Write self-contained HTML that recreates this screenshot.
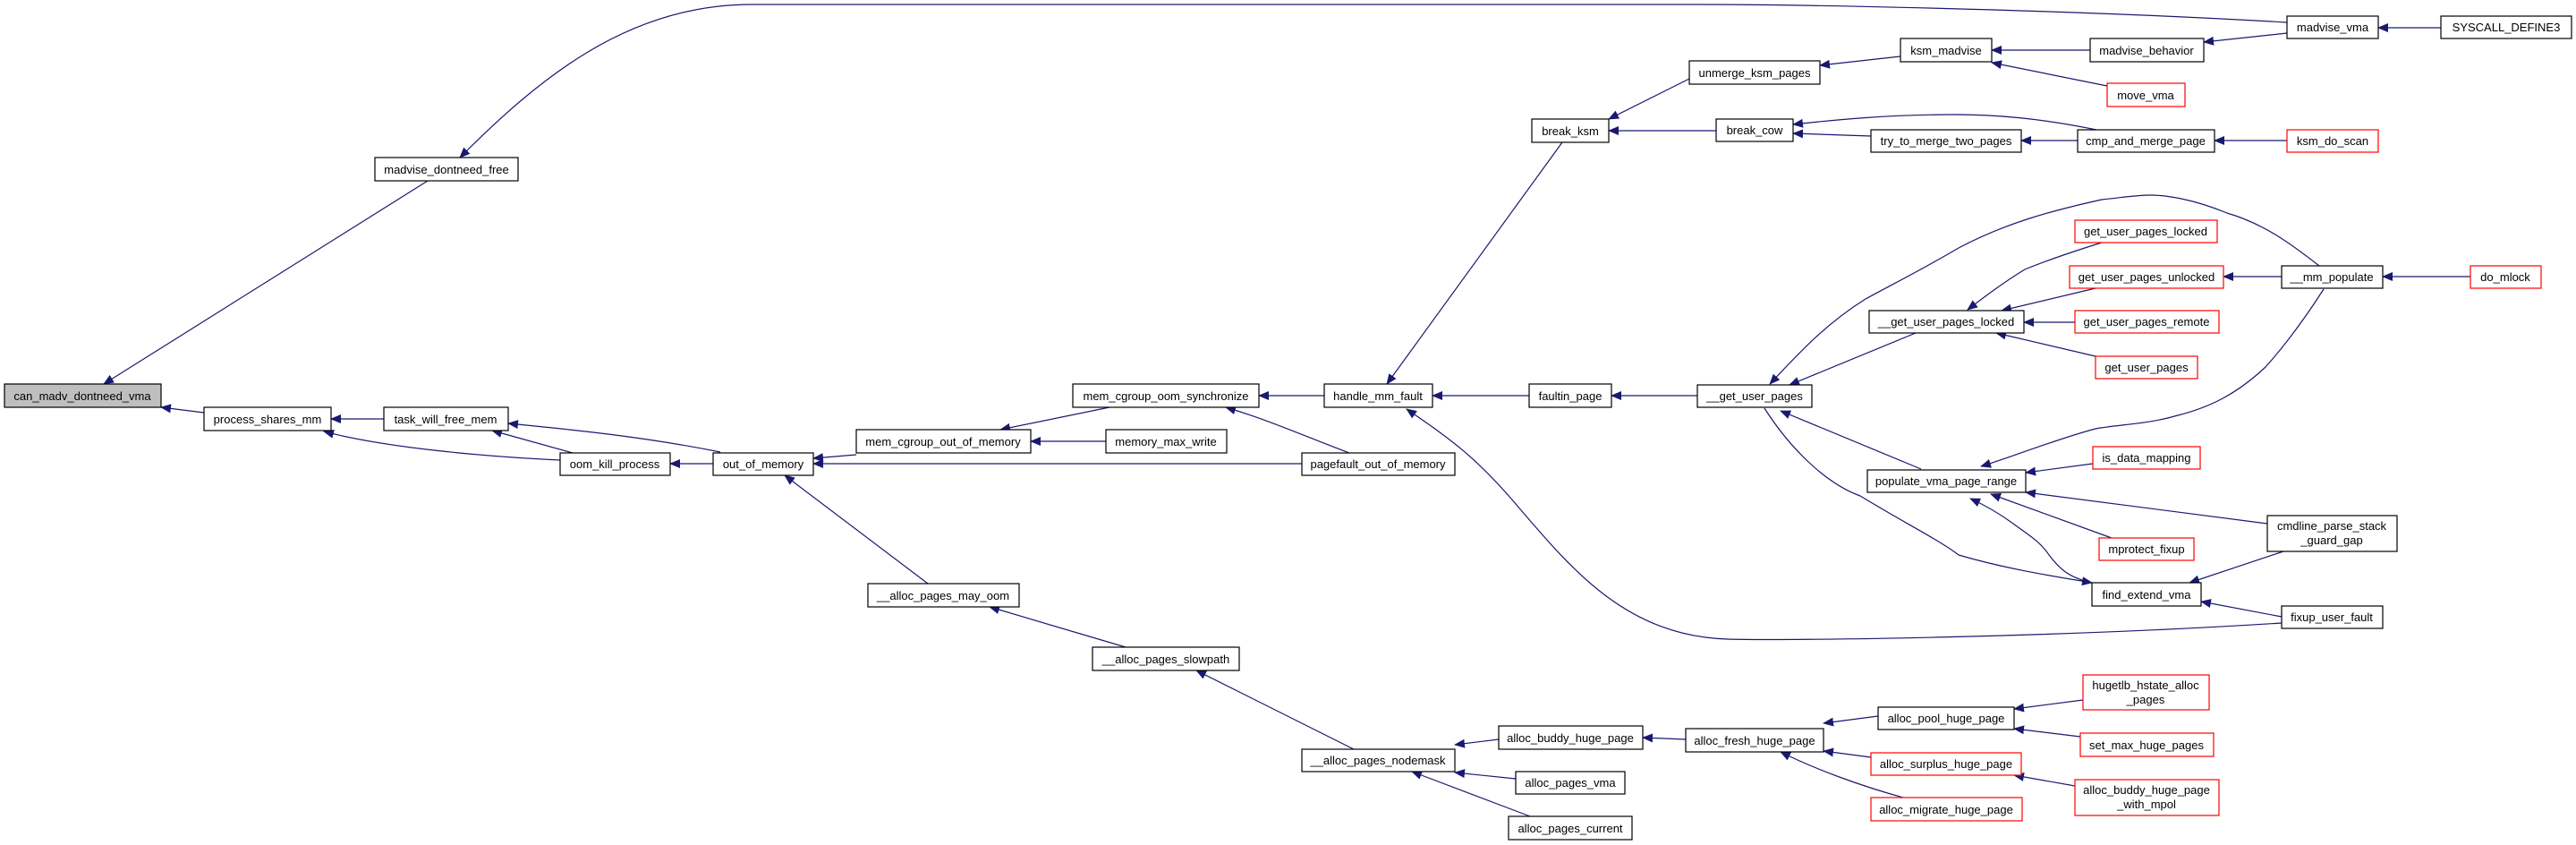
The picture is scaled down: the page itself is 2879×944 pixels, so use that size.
<!DOCTYPE html>
<html><head><meta charset="utf-8"><style>
html,body{margin:0;padding:0;background:#fff;}
svg{display:block;}
text{font-family:"Liberation Sans",Arial,sans-serif;font-size:13px;fill:#000;}
</style></head><body>
<svg width="2879" height="944" viewBox="0 0 2879 944" xmlns="http://www.w3.org/2000/svg">
<defs>
<marker id="a" markerWidth="12" markerHeight="10" refX="11" refY="5" orient="auto" markerUnits="userSpaceOnUse">
<path d="M0,0 L12,5 L0,10 Z" fill="#191970"/>
</marker>
</defs>
<g fill="none" stroke="#191970" stroke-width="1.2" marker-end="url(#a)">
<path d="M478,202 L116,429"/>
<path d="M2556,25 C2300,10 2000,5 1900,5 L840,5 C700,5 600,90 514,176"/>
<path d="M228,461 L180,455"/>
<path d="M429,468 L370,468"/>
<path d="M626,514 C540,510 430,500 362,482"/>
<path d="M640,506 L550,481"/>
<path d="M805,505 C720,488 640,480 568,473"/>
<path d="M797,518 L749,518"/>
<path d="M957,508 L909,512"/>
<path d="M1455,518 L909,518"/>
<path d="M1037,652 L877,531"/>
<path d="M1240,455 L1118,480"/>
<path d="M1236,493 L1152,493"/>
<path d="M1480,442 L1407,442"/>
<path d="M1508,506 C1460,488 1420,470 1370,455"/>
<path d="M1709,442 L1601,442"/>
<path d="M1746,159 L1550,429"/>
<path d="M2550,696 C2300,712 2000,716 1930,714 C1820,710 1760,640 1700,570 C1650,510 1620,490 1572,457"/>
<path d="M1888,88 L1798,133"/>
<path d="M1918,146 L1798,146"/>
<path d="M2124,63 L2034,73"/>
<path d="M2336,56 L2226,56"/>
<path d="M2355,96 L2226,70"/>
<path d="M2556,37 L2463,47"/>
<path d="M2728,31 L2658,31"/>
<path d="M2343,145 C2280,132 2230,128 2183,128 C2110,128 2050,134 2004,139"/>
<path d="M2091,152 L2004,149"/>
<path d="M2322,157 L2259,157"/>
<path d="M2556,157 L2475,157"/>
<path d="M1897,442 L1801,442"/>
<path d="M2592,297 C2560,272 2530,250 2489,238 C2450,222 2420,218 2404,218 C2385,218 2370,221 2349,223 C2290,236 2240,250 2189,277 C2150,300 2120,315 2085,334 C2040,362 2010,395 1978,429"/>
<path d="M2141,372 L2000,430"/>
<path d="M2147,524 L1990,459"/>
<path d="M1972,456 C2000,500 2040,540 2079,554 C2130,585 2170,605 2189,620 C2240,635 2290,643 2338,651"/>
<path d="M2349,271 C2320,280 2290,290 2263,301 C2240,315 2220,330 2199,346"/>
<path d="M2342,322 L2237,347"/>
<path d="M2319,360 L2262,360"/>
<path d="M2342,398 L2231,372"/>
<path d="M2550,309 L2485,309"/>
<path d="M2761,309 L2663,309"/>
<path d="M2597,323 C2570,365 2550,390 2532,410 C2500,440 2470,455 2434,464 C2400,474 2370,474 2342,479 C2300,490 2250,510 2214,521"/>
<path d="M2339,518 L2264,528"/>
<path d="M2534,585 L2264,550"/>
<path d="M2360,601 L2225,552"/>
<path d="M2338,651 C2310,645 2300,633 2290,620 C2280,605 2269,599 2250,585 C2235,574 2220,565 2202,557"/>
<path d="M2552,616 L2447,651"/>
<path d="M2550,689 L2460,672"/>
<path d="M1884,826 L1836,824"/>
<path d="M2099,800 L2038,808"/>
<path d="M2091,846 L2038,839"/>
<path d="M2127,891 C2080,878 2030,860 1990,840"/>
<path d="M2328,782 L2251,792"/>
<path d="M2325,823 L2251,814"/>
<path d="M2319,878 L2251,866"/>
<path d="M1258,723 L1106,678"/>
<path d="M1513,837 L1337,749"/>
<path d="M1675,826 L1626,832"/>
<path d="M1694,870 L1626,863"/>
<path d="M1710,912 L1578,862"/>
</g>
<g stroke-width="1.2">
<rect x="5" y="429" width="175" height="26" fill="#bfbfbf" stroke="#000"/>
<g fill="#fff" stroke="#000">
<rect x="419" y="176" width="160" height="26"/>
<rect x="228" y="455" width="142" height="26"/>
<rect x="429" y="455" width="139" height="26"/>
<rect x="626" y="506" width="123" height="25"/>
<rect x="797" y="506" width="112" height="25"/>
<rect x="957" y="480" width="195" height="26"/>
<rect x="1199" y="429" width="208" height="26"/>
<rect x="1236" y="480" width="135" height="26"/>
<rect x="1455" y="506" width="171" height="25"/>
<rect x="1480" y="429" width="121" height="26"/>
<rect x="1709" y="429" width="92" height="26"/>
<rect x="1712" y="133" width="86" height="26"/>
<rect x="1888" y="68" width="146" height="26"/>
<rect x="1918" y="133" width="86" height="25"/>
<rect x="970" y="652" width="169" height="26"/>
<rect x="1221" y="723" width="164" height="26"/>
<rect x="1455" y="837" width="171" height="25"/>
<rect x="1675" y="811" width="161" height="26"/>
<rect x="1694" y="862" width="122" height="25"/>
<rect x="1686" y="912" width="138" height="26"/>
<rect x="2556" y="18" width="102" height="25"/>
<rect x="2728" y="18" width="146" height="25"/>
<rect x="2124" y="43" width="102" height="26"/>
<rect x="2336" y="43" width="127" height="26"/>
<rect x="2091" y="145" width="168" height="25"/>
<rect x="2322" y="145" width="153" height="25"/>
<rect x="2550" y="297" width="113" height="25"/>
<rect x="2089" y="347" width="173" height="25"/>
<rect x="1897" y="430" width="128" height="25"/>
<rect x="2087" y="525" width="177" height="25"/>
<rect x="2534" y="576" width="145" height="40"/>
<rect x="2338" y="651" width="122" height="26"/>
<rect x="2550" y="677" width="113" height="25"/>
<rect x="2099" y="790" width="152" height="25"/>
<rect x="1884" y="814" width="154" height="26"/>
</g>
<g fill="#fff" stroke="#ff0000">
<rect x="2355" y="93" width="87" height="26"/>
<rect x="2556" y="145" width="102" height="25"/>
<rect x="2319" y="246" width="159" height="25"/>
<rect x="2313" y="297" width="172" height="25"/>
<rect x="2761" y="297" width="79" height="25"/>
<rect x="2319" y="347" width="161" height="25"/>
<rect x="2342" y="398" width="114" height="25"/>
<rect x="2339" y="499" width="120" height="25"/>
<rect x="2346" y="601" width="106" height="25"/>
<rect x="2328" y="754" width="141" height="39"/>
<rect x="2325" y="819" width="149" height="26"/>
<rect x="2091" y="841" width="168" height="25"/>
<rect x="2319" y="871" width="161" height="40"/>
<rect x="2091" y="891" width="169" height="26"/>
</g>
</g>
<g text-anchor="middle">
<text x="92" y="447">can_madv_dontneed_vma</text>
<text x="499" y="194">madvise_dontneed_free</text>
<text x="299" y="473">process_shares_mm</text>
<text x="498" y="473">task_will_free_mem</text>
<text x="687" y="523">oom_kill_process</text>
<text x="853" y="523">out_of_memory</text>
<text x="1054" y="498">mem_cgroup_out_of_memory</text>
<text x="1303" y="447">mem_cgroup_oom_synchronize</text>
<text x="1303" y="498">memory_max_write</text>
<text x="1540" y="523">pagefault_out_of_memory</text>
<text x="1540" y="447">handle_mm_fault</text>
<text x="1755" y="447">faultin_page</text>
<text x="1755" y="151">break_ksm</text>
<text x="1961" y="86">unmerge_ksm_pages</text>
<text x="1961" y="150">break_cow</text>
<text x="1054" y="670">__alloc_pages_may_oom</text>
<text x="1303" y="741">__alloc_pages_slowpath</text>
<text x="1540" y="854">__alloc_pages_nodemask</text>
<text x="1755" y="829">alloc_buddy_huge_page</text>
<text x="1755" y="879">alloc_pages_vma</text>
<text x="1755" y="930">alloc_pages_current</text>
<text x="2607" y="35">madvise_vma</text>
<text x="2801" y="35">SYSCALL_DEFINE3</text>
<text x="2175" y="61">ksm_madvise</text>
<text x="2399" y="61">madvise_behavior</text>
<text x="2398" y="111">move_vma</text>
<text x="2175" y="162">try_to_merge_two_pages</text>
<text x="2398" y="162">cmp_and_merge_page</text>
<text x="2607" y="162">ksm_do_scan</text>
<text x="2398" y="263">get_user_pages_locked</text>
<text x="2399" y="314">get_user_pages_unlocked</text>
<text x="2606" y="314">__mm_populate</text>
<text x="2800" y="314">do_mlock</text>
<text x="2175" y="364">__get_user_pages_locked</text>
<text x="2399" y="364">get_user_pages_remote</text>
<text x="2399" y="415">get_user_pages</text>
<text x="1961" y="447">__get_user_pages</text>
<text x="2399" y="516">is_data_mapping</text>
<text x="2175" y="542">populate_vma_page_range</text>
<text x="2606" y="592">cmdline_parse_stack</text>
<text x="2606" y="608">_guard_gap</text>
<text x="2399" y="618">mprotect_fixup</text>
<text x="2399" y="669">find_extend_vma</text>
<text x="2606" y="694">fixup_user_fault</text>
<text x="2398" y="770">hugetlb_hstate_alloc</text>
<text x="2398" y="786">_pages</text>
<text x="2175" y="807">alloc_pool_huge_page</text>
<text x="1961" y="832">alloc_fresh_huge_page</text>
<text x="2399" y="837">set_max_huge_pages</text>
<text x="2175" y="858">alloc_surplus_huge_page</text>
<text x="2399" y="887">alloc_buddy_huge_page</text>
<text x="2399" y="903">_with_mpol</text>
<text x="2175" y="909">alloc_migrate_huge_page</text>
</g>
</svg>
</body></html>
